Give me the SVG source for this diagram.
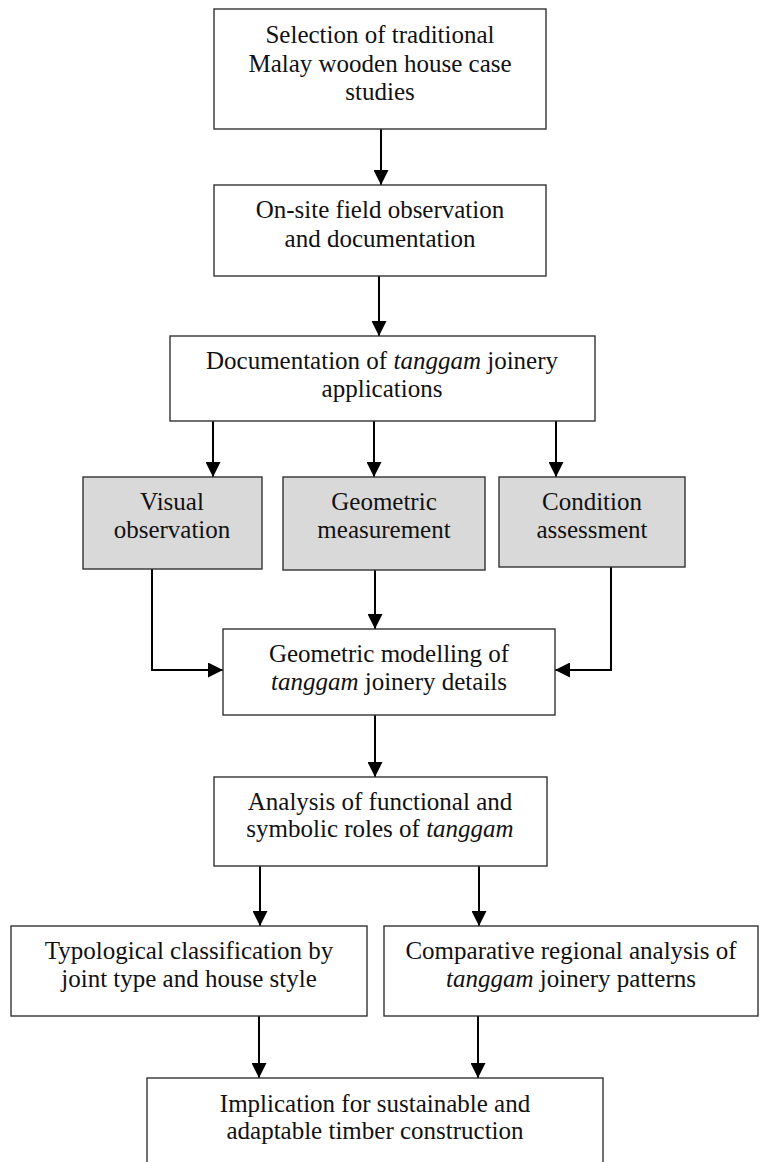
<svg xmlns="http://www.w3.org/2000/svg" width="760" height="1162" viewBox="0 0 760 1162">
<style>
.box{fill:#ffffff;stroke:#333333;stroke-width:1.4}
.grey{fill:#d9d9d9;stroke:#333333;stroke-width:1.4}
.t{font-family:"Liberation Serif","Times New Roman",serif;font-size:25px;fill:#111111;text-anchor:middle}
.i{font-style:italic}
.c{fill:none;stroke:#000000;stroke-width:2}
</style>
<defs>
<marker id="ah" markerUnits="userSpaceOnUse" markerWidth="15" markerHeight="15" refX="15" refY="7.5" orient="auto" viewBox="0 0 15 15">
<path d="M0,0 L15,7.5 L0,15 Z" fill="#000000"/>
</marker>
</defs>
<rect width="760" height="1162" fill="#ffffff"/>
<g id="connectors">
<path class="c" d="M381,129 V185" marker-end="url(#ah)"/>
<path class="c" d="M379,276 V336" marker-end="url(#ah)"/>
<path class="c" d="M213,421 V477" marker-end="url(#ah)"/>
<path class="c" d="M374,421 V477" marker-end="url(#ah)"/>
<path class="c" d="M556,421 V477" marker-end="url(#ah)"/>
<path class="c" d="M152,569 V670 H223" marker-end="url(#ah)"/>
<path class="c" d="M375,570 V629" marker-end="url(#ah)"/>
<path class="c" d="M611,567 V670 H555" marker-end="url(#ah)"/>
<path class="c" d="M375,715 V777" marker-end="url(#ah)"/>
<path class="c" d="M260,866 V926" marker-end="url(#ah)"/>
<path class="c" d="M479,866 V926" marker-end="url(#ah)"/>
<path class="c" d="M259,1016 V1078" marker-end="url(#ah)"/>
<path class="c" d="M478,1016 V1078" marker-end="url(#ah)"/>
</g>
<g id="n1">
<rect class="box" x="214" y="9" width="332" height="120"/>
<text class="t" x="380" y="43">Selection of traditional</text>
<text class="t" x="380" y="72">Malay wooden house case</text>
<text class="t" x="380" y="100">studies</text>
</g>
<g id="n2">
<rect class="box" x="214" y="185" width="332" height="91"/>
<text class="t" x="380" y="218">On-site field observation</text>
<text class="t" x="380" y="247">and documentation</text>
</g>
<g id="n3">
<rect class="box" x="170" y="336" width="425" height="85"/>
<text class="t" x="382" y="369">Documentation of <tspan class="i">tanggam</tspan> joinery</text>
<text class="t" x="382" y="397">applications</text>
</g>
<g id="n4">
<rect class="grey" x="83" y="477" width="179" height="92"/>
<text class="t" x="172" y="510">Visual</text>
<text class="t" x="172" y="538">observation</text>
</g>
<g id="n5">
<rect class="grey" x="283" y="477" width="202" height="93"/>
<text class="t" x="384" y="510">Geometric</text>
<text class="t" x="384" y="538">measurement</text>
</g>
<g id="n6">
<rect class="grey" x="499" y="477" width="186" height="90"/>
<text class="t" x="592" y="510">Condition</text>
<text class="t" x="592" y="538">assessment</text>
</g>
<g id="n7">
<rect class="box" x="223" y="629" width="332" height="86"/>
<text class="t" x="389" y="662">Geometric modelling of</text>
<text class="t" x="389" y="690"><tspan class="i">tanggam</tspan> joinery details</text>
</g>
<g id="n8">
<rect class="box" x="214" y="777" width="333" height="89"/>
<text class="t" x="380" y="810">Analysis of functional and</text>
<text class="t" x="380" y="837">symbolic roles of <tspan class="i">tanggam</tspan></text>
</g>
<g id="n9">
<rect class="box" x="11" y="926" width="356" height="90"/>
<text class="t" x="189" y="959">Typological classification by</text>
<text class="t" x="189" y="987">joint type and house style</text>
</g>
<g id="n10">
<rect class="box" x="384" y="926" width="374" height="90"/>
<text class="t" x="571" y="959">Comparative regional analysis of</text>
<text class="t" x="571" y="987"><tspan class="i">tanggam</tspan> joinery patterns</text>
</g>
<g id="n11">
<rect class="box" x="147" y="1078" width="456" height="100"/>
<text class="t" x="375" y="1112">Implication for sustainable and</text>
<text class="t" x="375" y="1139">adaptable timber construction</text>
</g>
</svg>
